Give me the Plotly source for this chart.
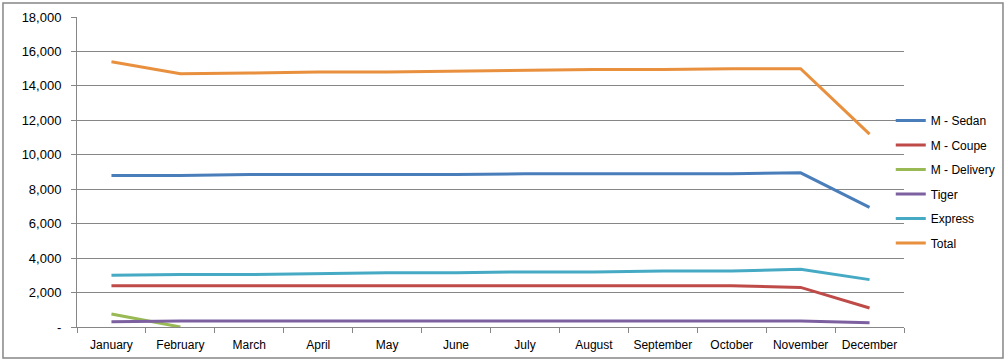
import plotly.graph_objects as go

months = ["January", "February", "March", "April", "May", "June", "July",
          "August", "September", "October", "November", "December"]
sedan = [8800, 8800, 8850, 8850, 8850, 8850, 8900, 8900, 8900, 8900, 8950, 6950]
coupe = [2400, 2400, 2400, 2400, 2400, 2400, 2400, 2400, 2400, 2400, 2300, 1100]
delivery = [750, 0, None, None, None, None, None, None, None, None, None, None]
tiger = [300, 350, 350, 350, 350, 350, 350, 350, 350, 350, 350, 250]
express = [3000, 3050, 3050, 3100, 3150, 3150, 3200, 3200, 3250, 3250, 3350, 2750]
total = [15400, 14700, 14750, 14800, 14800, 14850, 14900, 14950, 14950, 15000, 15000, 11200]

series = [
    ("M - Sedan", sedan, "#4A7EBB"),
    ("M - Coupe", coupe, "#BE4B48"),
    ("M - Delivery", delivery, "#98B954"),
    ("Tiger", tiger, "#7D60A0"),
    ("Express", express, "#46AAC5"),
    ("Total", total, "#E8903E"),
]

fig = go.Figure()
for name, vals, col in series:
    fig.add_trace(go.Scatter(x=months, y=vals, name=name, mode="lines",
                             legendgroup=name,
                             line=dict(color=col, width=3), connectgaps=False))

font = dict(family="Liberation Sans, Arial, sans-serif", size=13, color="#000000")
fig.update_layout(
    width=1008, height=363,
    margin=dict(l=77, r=104, t=17, b=36, autoexpand=False),
    paper_bgcolor="white", plot_bgcolor="white",
    font=font,
    showlegend=True,
    legend=dict(x=0.984, y=0.468, xanchor="left", yanchor="middle",
                bgcolor="rgba(0,0,0,0)", font=dict(size=12),
                tracegroupgap=5.5, itemwidth=30),
    xaxis=dict(type="category", tickson="boundaries", ticks="outside", ticklen=5,
               tickcolor="#868686", showgrid=False, showline=True,
               linecolor="#868686", linewidth=1, tickfont=dict(size=12),
               tickangle=0, automargin=False,
               ticklabelstandoff=7, range=[-0.5, 11.5]),
    yaxis=dict(range=[0, 18000], tickvals=list(range(0, 18001, 2000)),
               ticktext=["-"] + [f"{v:,}" for v in range(2000, 18001, 2000)],
               ticks="outside", ticklen=5, tickcolor="#868686",
               showgrid=True, gridcolor="#868686", gridwidth=1,
               showline=True, linecolor="#868686", linewidth=1, automargin=False,
               zeroline=False, tickfont=dict(size=13), ticklabelstandoff=7),
    shapes=[dict(type="rect", xref="paper", yref="paper",
                 x0=-0.0895, x1=1.1197, y0=-0.1, y1=1.045,
                 line=dict(color="#868686", width=1.5), layer="below")],
)

fig.write_html("out.html", config={"displayModeBar": False},
               post_script="document.body.style.margin='0';document.body.style.padding='0';")
